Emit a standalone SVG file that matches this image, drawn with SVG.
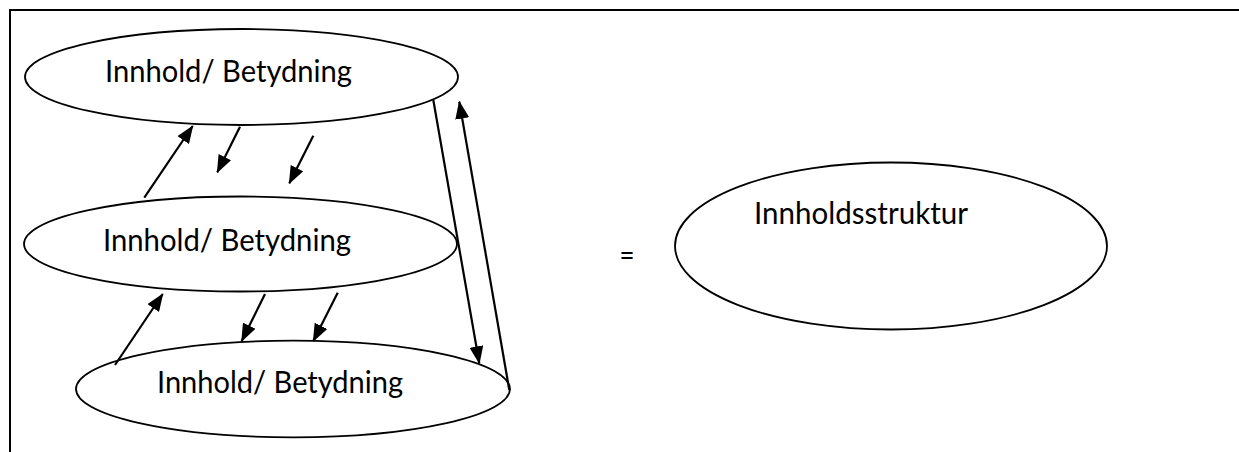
<svg xmlns="http://www.w3.org/2000/svg" width="1239" height="452" viewBox="0 0 1239 452">
<style>
.node ellipse{fill:none;stroke:#000;stroke-width:1.8}
.lbl{font-family:Lato,"Open Sans","DejaVu Sans",sans-serif;font-size:30px;fill:#000}
.conn line{stroke:#000;stroke-width:2.2}
.frame{fill:none;stroke:#000;stroke-width:2}
</style>
<defs>
<marker id="ah" viewBox="0 0 18 14" refX="17" refY="7" markerWidth="18" markerHeight="14" markerUnits="userSpaceOnUse" orient="auto">
<path d="M0,0 L18,7 L0,14 Z" fill="#000"/>
</marker>
</defs>
<rect width="1239" height="452" fill="#fff"/>
<path class="frame" d="M10,452 L10,10 L1239,10"/>
<g id="node-top" class="node">
<ellipse cx="241.5" cy="77" rx="216.5" ry="48"/>
<text class="lbl" x="105" y="82" textLength="247" lengthAdjust="spacingAndGlyphs">Innhold/ Betydning</text>
</g>
<g id="node-middle" class="node">
<ellipse cx="240.5" cy="244" rx="216.5" ry="47.5"/>
<text class="lbl" x="103" y="251" textLength="248" lengthAdjust="spacingAndGlyphs">Innhold/ Betydning</text>
</g>
<g id="node-bottom" class="node">
<ellipse cx="293" cy="389" rx="217" ry="48.3"/>
<text class="lbl" x="157" y="393" textLength="246" lengthAdjust="spacingAndGlyphs">Innhold/ Betydning</text>
</g>
<g id="equals">
<text class="lbl" x="627" y="266" text-anchor="middle" textLength="15" lengthAdjust="spacingAndGlyphs">=</text>
</g>
<g id="node-structure" class="node">
<ellipse cx="891" cy="246" rx="216" ry="83.5"/>
<text class="lbl" x="754" y="224" textLength="214" lengthAdjust="spacingAndGlyphs">Innholdsstruktur</text>
</g>
<g id="connectors" class="conn">
<line x1="144.3" y1="197.7" x2="192.7" y2="126" marker-end="url(#ah)"/>
<line x1="240" y1="126.7" x2="217.3" y2="172.3" marker-end="url(#ah)"/>
<line x1="313.3" y1="135.7" x2="289.3" y2="183.3" marker-end="url(#ah)"/>
<line x1="115" y1="365" x2="162.7" y2="294" marker-end="url(#ah)"/>
<line x1="265" y1="294" x2="241.7" y2="341" marker-end="url(#ah)"/>
<line x1="337.7" y1="292.7" x2="313.3" y2="341" marker-end="url(#ah)"/>
<line x1="433.3" y1="100" x2="479.3" y2="363.3" marker-end="url(#ah)"/>
<line x1="509.3" y1="390" x2="459.3" y2="101.7" marker-end="url(#ah)"/>
</g>
</svg>
